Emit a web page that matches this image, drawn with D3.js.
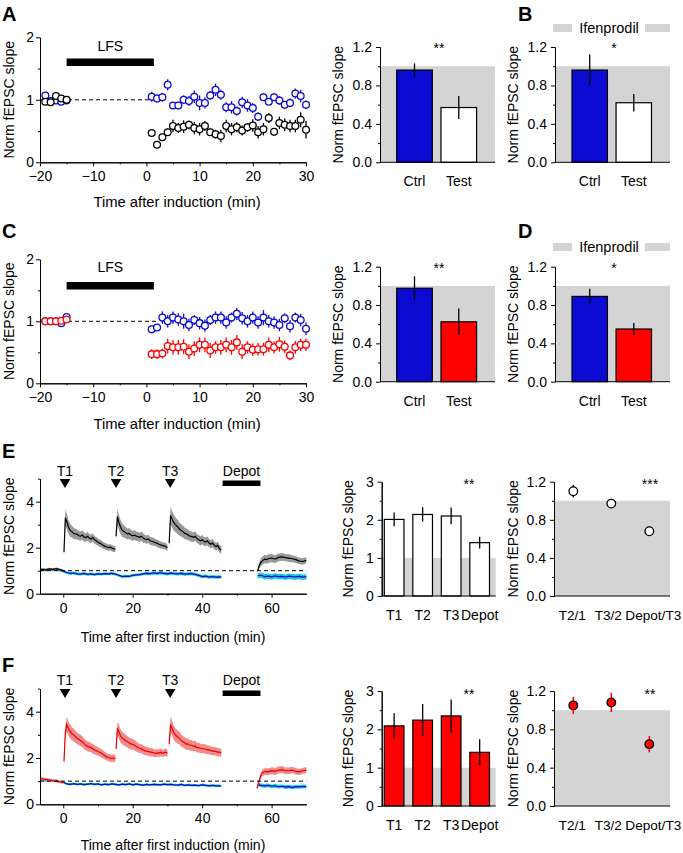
<!DOCTYPE html>
<html><head><meta charset="utf-8">
<script src="https://cdn.jsdelivr.net/npm/d3@7"></script>
<style>body{margin:0;background:#fff} svg{display:block}</style>
</head><body><svg id="c" width="683" height="853"></svg>
<script>
// ---------------- DATA ----------------
const tBase = [-19,-18,-17,-16,-15];
const tPost = [1,2,3,4,5,6,7,8,9,10,11,12,13,14,15,16,17,18,19,20,21,22,23,24,25,26,27,28,29,30];

// Panel A (ctrl = blue, test = black)
const aCtrlBase = [1.07,0.98,0.99,0.97,0.99];
const aCtrlBaseErr = [0.03,0.03,0.03,0.03,0.03];
const aCtrlPost = [1.05,1.02,1.04,1.24,0.91,0.91,1.0,0.98,1.05,0.95,0.95,1.07,1.16,1.08,0.88,0.88,0.82,0.96,0.91,0.87,0.73,1.04,0.97,1.04,0.99,0.92,0.95,1.10,1.06,0.92];
const aCtrlPostErr = [0.08,0.06,0.07,0.09,0.05,0.06,0.07,0.08,0.1,0.12,0.09,0.07,0.1,0.08,0.08,0.1,0.07,0.09,0.1,0.08,0.07,0.06,0.05,0.06,0.07,0.06,0.07,0.08,0.1,0.07];
const aTestBase = [0.97,0.96,1.06,1.02,1.0];
const aTestBaseErr = [0.03,0.03,0.03,0.03,0.03];
const aTestPost = [0.47,0.28,0.40,0.48,0.58,0.55,0.57,0.60,0.55,0.53,0.58,0.48,0.45,0.42,0.58,0.53,0.56,0.51,0.56,0.59,0.48,0.53,0.71,0.49,0.63,0.60,0.58,0.58,0.68,0.52];
const aTestPostErr = [0.04,0.03,0.04,0.06,0.1,0.08,0.1,0.07,0.1,0.1,0.08,0.06,0.07,0.1,0.1,0.1,0.08,0.08,0.07,0.1,0.1,0.1,0.08,0.06,0.1,0.1,0.1,0.1,0.12,0.14];

// Panel C (ctrl = blue, test = red)
const cCtrlBase = [1.0,1.0,1.0,0.97,1.07];
const cCtrlBaseErr = [0.03,0.03,0.03,0.04,0.04];
const cCtrlPost = [0.87,0.90,1.06,1.0,1.06,1.03,1.0,0.94,1.02,0.97,0.93,1.02,1.06,1.06,0.98,1.06,1.12,1.05,1.0,1.06,0.98,1.06,1.0,0.98,0.94,1.05,0.92,1.06,1.02,0.88];
const cCtrlPostErr = [0.06,0.05,0.1,0.1,0.1,0.1,0.12,0.1,0.08,0.1,0.1,0.08,0.1,0.1,0.1,0.08,0.1,0.1,0.1,0.1,0.1,0.12,0.1,0.1,0.1,0.08,0.1,0.08,0.1,0.1];
const cTestBase = [1.0,1.0,1.0,1.01,1.03];
const cTestBaseErr = [0.03,0.03,0.03,0.03,0.03];
const cTestPost = [0.47,0.47,0.48,0.60,0.58,0.58,0.59,0.51,0.56,0.62,0.62,0.53,0.58,0.58,0.62,0.58,0.66,0.51,0.58,0.54,0.55,0.55,0.62,0.58,0.63,0.59,0.45,0.58,0.62,0.62];
const cTestPostErr = [0.08,0.08,0.08,0.12,0.12,0.12,0.12,0.12,0.12,0.12,0.12,0.12,0.1,0.12,0.12,0.12,0.12,0.12,0.1,0.1,0.1,0.1,0.12,0.1,0.12,0.1,0.08,0.1,0.1,0.1];

// Bar charts
const barCats = ["Ctrl","Test"];
const aBar = [0.96,0.57], aBarErr = [0.07,0.12];
const bBar = [0.96,0.62], bBarErr = [0.165,0.09];
const cBar = [0.975,0.625], cBarErr = [0.125,0.14];
const dBar = [0.89,0.55], dBarErr = [0.08,0.062];
const trainCats = ["T1","T2","T3","Depot"];
const eBar = [2.01,2.14,2.10,1.40], eBarErr = [0.18,0.19,0.22,0.155];
const fBar = [2.09,2.24,2.35,1.40], fBarErr = [0.33,0.42,0.43,0.34];
const ratioCats = ["T2/1","T3/2","Depot/T3"];
const eRatio = [1.10,0.97,0.68], eRatioErr = [0.065,0.02,0.02];
const fRatio = [1.05,1.08,0.645], fRatioErr = [0.09,0.1,0.085];

// Panel E traces: [time, mean, sem]
const eTestBaseTrace = [[-6.7,1.03,0.05],[-6,1.06,0.05],[-5,1.04,0.05],[-4,1.08,0.05],[-3,1.06,0.05],[-2,1.09,0.05],[-1,1.05,0.05],[0,1.01,0.05]];
const eTestT1 = [[0.2,1.8,0.15],[0.6,3.3,0.35],[1,3.15,0.35],[1.5,2.9,0.3],[2,2.75,0.28],[2.5,2.7,0.25],[3,2.62,0.25],[3.5,2.6,0.22],[4,2.58,0.22],[4.5,2.52,0.2],[5,2.5,0.2],[5.5,2.55,0.2],[6,2.46,0.2],[6.5,2.44,0.18],[7,2.5,0.2],[7.5,2.42,0.18],[8,2.38,0.18],[8.5,2.45,0.18],[9,2.34,0.17],[9.5,2.3,0.17],[10,2.24,0.16],[10.5,2.2,0.16],[11,2.16,0.15],[11.5,2.1,0.15],[12,2.06,0.15],[12.5,2.04,0.14],[13,2.0,0.14],[13.5,2.02,0.14],[14,1.98,0.14],[14.5,1.95,0.14],[15,1.94,0.14]];
const eTestT2 = [[15.2,2.5,0.2],[15.6,3.35,0.35],[16,3.1,0.33],[16.5,2.9,0.3],[17,2.75,0.28],[17.5,2.7,0.26],[18,2.65,0.25],[18.5,2.6,0.24],[19,2.62,0.24],[19.5,2.55,0.22],[20,2.52,0.22],[20.5,2.55,0.22],[21,2.5,0.2],[21.5,2.48,0.2],[22,2.45,0.2],[22.5,2.5,0.2],[23,2.42,0.2],[23.5,2.38,0.18],[24,2.35,0.18],[24.5,2.38,0.18],[25,2.3,0.18],[25.5,2.28,0.17],[26,2.25,0.17],[26.5,2.22,0.16],[27,2.2,0.16],[27.5,2.15,0.16],[28,2.12,0.15],[28.5,2.1,0.15],[29,2.08,0.15],[29.5,2.05,0.15],[30,2.0,0.15]];
const eTestT3 = [[30.5,2.2,0.2],[30.9,3.4,0.38],[31.3,3.25,0.36],[31.8,3.1,0.34],[32.3,3.0,0.32],[33,2.9,0.3],[33.5,2.8,0.28],[34,2.75,0.27],[34.5,2.7,0.26],[35,2.62,0.25],[35.5,2.6,0.24],[36,2.55,0.23],[36.5,2.5,0.22],[37,2.48,0.22],[37.5,2.45,0.21],[38,2.5,0.21],[38.5,2.4,0.2],[39,2.35,0.2],[39.5,2.3,0.2],[40,2.35,0.2],[40.5,2.28,0.19],[41,2.25,0.19],[41.5,2.3,0.19],[42,2.2,0.18],[42.5,2.15,0.18],[43,2.2,0.18],[43.5,2.1,0.17],[44,2.05,0.17],[44.5,2.1,0.17],[45,1.95,0.17],[45.5,1.9,0.16]];
const eTestDepot = [[56,1.0,0.1],[56.5,1.25,0.15],[57,1.38,0.17],[57.5,1.45,0.18],[58,1.5,0.18],[58.5,1.48,0.18],[59,1.52,0.18],[60,1.55,0.18],[61,1.5,0.17],[62,1.58,0.17],[63,1.6,0.17],[64,1.57,0.16],[65,1.55,0.16],[66,1.52,0.15],[67,1.48,0.15],[68,1.42,0.14],[69,1.4,0.14],[70,1.45,0.14]];
const eCtrlTrace = [[-6.7,1.02,0.06],[-6,1.05,0.06],[-5,1.03,0.06],[-4,1.06,0.06],[-3,1.04,0.06],[-2,1.07,0.06],[-1,1.02,0.06],[0,0.98,0.06],[1,0.92,0.06],[2,0.88,0.06],[3,0.9,0.06],[4,0.86,0.06],[5,0.85,0.06],[6,0.88,0.06],[7,0.84,0.06],[8,0.86,0.06],[9,0.83,0.06],[10,0.86,0.06],[11,0.85,0.06],[12,0.87,0.06],[13,0.86,0.06],[14,0.88,0.06],[15,0.85,0.06],[16,0.8,0.06],[17,0.74,0.06],[18,0.76,0.06],[19,0.75,0.06],[20,0.8,0.06],[21,0.82,0.06],[22,0.83,0.06],[23,0.86,0.06],[24,0.88,0.07],[25,0.87,0.07],[26,0.9,0.07],[27,0.88,0.07],[28,0.91,0.07],[29,0.88,0.07],[30,0.86,0.07],[31,0.89,0.07],[32,0.87,0.07],[33,0.86,0.07],[34,0.88,0.07],[35,0.85,0.07],[36,0.86,0.07],[37,0.87,0.07],[38,0.84,0.07],[39,0.8,0.07],[40,0.74,0.07],[41,0.76,0.07],[42,0.72,0.07],[43,0.74,0.07],[44,0.72,0.07],[45,0.73,0.07],[45.5,0.72,0.07]];
const eCtrlDepot = [[56,0.78,0.12],[57,0.8,0.12],[58,0.74,0.12],[59,0.76,0.12],[60,0.73,0.12],[61,0.77,0.12],[62,0.74,0.12],[63,0.75,0.12],[64,0.72,0.12],[65,0.76,0.12],[66,0.74,0.12],[67,0.73,0.12],[68,0.75,0.12],[69,0.72,0.12],[70,0.74,0.12]];

// Panel F traces
const fTestBaseTrace = [[-6.7,1.12,0.06],[-6,1.1,0.06],[-5,1.08,0.06],[-4,1.05,0.06],[-3,1.02,0.06],[-2,1.0,0.06],[-1,0.97,0.06],[0,0.95,0.06]];
const fTestT1 = [[0.2,1.85,0.15],[0.6,3.1,0.3],[1,3.45,0.33],[1.5,3.25,0.3],[2,3.15,0.3],[2.5,3.05,0.28],[3,3.0,0.27],[3.5,2.92,0.26],[4,2.85,0.25],[4.5,2.8,0.25],[5,2.75,0.24],[5.5,2.7,0.24],[6,2.62,0.23],[6.5,2.55,0.22],[7,2.5,0.22],[7.5,2.48,0.21],[8,2.45,0.2],[8.5,2.4,0.2],[9,2.35,0.2],[9.5,2.32,0.19],[10,2.28,0.19],[10.5,2.25,0.18],[11,2.2,0.18],[11.5,2.15,0.17],[12,2.1,0.17],[12.5,2.05,0.16],[13,2.02,0.16],[13.5,2.0,0.16],[14,1.98,0.16],[14.5,2.0,0.16],[15,1.98,0.16]];
const fTestT2 = [[15.2,2.4,0.2],[15.6,3.25,0.3],[16,3.15,0.3],[16.5,2.95,0.28],[17,2.85,0.27],[17.5,2.8,0.26],[18,2.75,0.25],[18.5,2.7,0.25],[19,2.65,0.24],[19.5,2.6,0.24],[20,2.6,0.23],[20.5,2.55,0.22],[21,2.5,0.22],[21.5,2.45,0.21],[22,2.42,0.2],[22.5,2.4,0.2],[23,2.35,0.2],[23.5,2.32,0.19],[24,2.3,0.19],[24.5,2.28,0.18],[25,2.25,0.18],[25.5,2.25,0.18],[26,2.22,0.17],[26.5,2.2,0.17],[27,2.22,0.17],[27.5,2.2,0.17],[28,2.25,0.17],[28.5,2.2,0.16],[29,2.22,0.16],[29.5,2.25,0.16],[30,2.2,0.16]];
const fTestT3 = [[30.5,2.6,0.22],[30.9,3.45,0.35],[31.3,3.3,0.33],[31.8,3.1,0.3],[32.3,3.0,0.3],[33,2.9,0.28],[33.5,2.85,0.27],[34,2.75,0.26],[34.5,2.7,0.25],[35,2.65,0.25],[35.5,2.6,0.24],[36,2.6,0.24],[36.5,2.55,0.23],[37,2.55,0.23],[37.5,2.5,0.22],[38,2.52,0.22],[38.5,2.45,0.21],[39,2.45,0.21],[39.5,2.42,0.2],[40,2.4,0.2],[40.5,2.4,0.2],[41,2.38,0.2],[41.5,2.35,0.19],[42,2.35,0.19],[42.5,2.32,0.19],[43,2.3,0.18],[43.5,2.3,0.18],[44,2.28,0.18],[44.5,2.25,0.18],[45,2.25,0.17],[45.5,2.22,0.17]];
const fTestDepot = [[55.8,0.7,0.08],[56.3,0.95,0.1],[56.8,1.2,0.12],[57.3,1.35,0.14],[57.8,1.4,0.15],[58.5,1.42,0.15],[59,1.4,0.15],[60,1.45,0.15],[61,1.42,0.15],[62,1.48,0.15],[63,1.5,0.15],[64,1.45,0.14],[65,1.45,0.14],[66,1.48,0.14],[67,1.42,0.14],[68,1.4,0.13],[69,1.45,0.13],[70,1.48,0.13]];
const fCtrlTrace = [[-6.7,1.05,0.05],[-6,1.08,0.05],[-5,1.02,0.05],[-4,1.05,0.05],[-3,1.0,0.05],[-2,1.03,0.05],[-1,0.98,0.05],[0,0.95,0.05],[1,0.88,0.05],[2,0.86,0.05],[3,0.89,0.05],[4,0.86,0.05],[5,0.88,0.05],[6,0.85,0.05],[7,0.87,0.05],[8,0.89,0.05],[9,0.86,0.05],[10,0.88,0.05],[11,0.84,0.05],[12,0.87,0.05],[13,0.85,0.05],[14,0.88,0.05],[15,0.86,0.05],[16,0.84,0.05],[17,0.87,0.05],[18,0.85,0.05],[19,0.88,0.05],[20,0.84,0.05],[21,0.87,0.05],[22,0.85,0.05],[23,0.83,0.05],[24,0.86,0.05],[25,0.84,0.05],[26,0.86,0.05],[27,0.85,0.05],[28,0.84,0.05],[29,0.87,0.05],[30,0.85,0.05],[31,0.86,0.05],[32,0.84,0.05],[33,0.83,0.05],[34,0.86,0.05],[35,0.82,0.05],[36,0.84,0.05],[37,0.82,0.05],[38,0.83,0.05],[39,0.81,0.05],[40,0.84,0.05],[41,0.82,0.05],[42,0.8,0.05],[43,0.82,0.05],[44,0.8,0.05],[45,0.8,0.05],[45.5,0.79,0.05]];
const fCtrlDepot = [[56,0.85,0.08],[57,0.82,0.08],[58,0.8,0.08],[59,0.82,0.08],[60,0.78,0.08],[61,0.8,0.08],[62,0.76,0.08],[63,0.78,0.08],[64,0.74,0.08],[65,0.76,0.08],[66,0.73,0.08],[67,0.76,0.08],[68,0.75,0.08],[69,0.77,0.08],[70,0.76,0.08]];

const inductionTimes = [0.5, 15.2, 30.8];
const inductionLabels = ["T1","T2","T3"];
const depotSpan = [45.9, 56.8];
const lfsSpan = [-15, 1.4];

// ---------------- DRAWING ----------------
const FONT = '"Liberation Sans", Arial, Helvetica, sans-serif';
const BLUE = "#0a0ad0", RED = "#ff0000", GRAY = "#d4d4d4";
const svg = d3.select("#c");
svg.append("rect").attr("width",683).attr("height",853).attr("fill","#fff");

function styleAxis(g){ g.attr("font-family",FONT).attr("font-size",14); g.selectAll("text").attr("fill","#000"); g.selectAll("line,path").attr("stroke","#000"); }

function xAxis(x, y0, maj, min, pad){
  const g = svg.append("g").attr("transform",`translate(0,${y0})`)
    .call(d3.axisBottom(x).tickValues(maj).tickSize(4).tickSizeOuter(0).tickPadding(pad).tickFormat(d3.format("d")));
  styleAxis(g);
  const g2 = svg.append("g").attr("transform",`translate(0,${y0})`)
    .call(d3.axisBottom(x).tickValues(min).tickSize(2).tickSizeOuter(0).tickFormat(""));
  styleAxis(g2);
}
function yAxis(y, x0, maj, min, fmt, pad){
  const g = svg.append("g").attr("transform",`translate(${x0},0)`)
    .call(d3.axisLeft(y).tickValues(maj).tickSize(4).tickSizeOuter(0).tickPadding(pad).tickFormat(fmt));
  styleAxis(g);
  const g2 = svg.append("g").attr("transform",`translate(${x0},0)`)
    .call(d3.axisLeft(y).tickValues(min).tickSize(2).tickSizeOuter(0).tickFormat(""));
  styleAxis(g2);
}
function text(x,y,s,o={}){
  const t = svg.append("text").attr("x",x).attr("y",y).text(s)
    .attr("font-family",FONT).attr("font-size",o.size||14).attr("text-anchor",o.anchor||"middle")
    .attr("font-weight",o.weight||"normal").attr("fill","#000");
  if(o.rotate) t.attr("transform",`rotate(-90,${x},${y})`);
  return t;
}
function ylabel(x, y){ const c=(y.range()[0]+y.range()[1])/2; text(x,c,"Norm fEPSC slope",{rotate:true}); }

// ----- scatter time-course panels (A, C)
function scatterPanel(top0, top2, series, lfsTextY, lfsBarY, xlabY){
  const x = d3.scaleLinear().domain([-20,30]).range([40,306]);
  const y = d3.scaleLinear().domain([0,2]).range([top0, top2]);
  svg.append("line").attr("x1",x(-20)).attr("x2",x(2)).attr("y1",y(1)).attr("y2",y(1))
    .attr("stroke","#000").attr("stroke-width",1).attr("stroke-dasharray","4,3");
  svg.append("rect").attr("x",x(lfsSpan[0])).attr("width",x(lfsSpan[1])-x(lfsSpan[0]))
    .attr("y",lfsBarY).attr("height",7.5).attr("fill","#000");
  text((x(lfsSpan[0])+x(lfsSpan[1]))/2, lfsTextY, "LFS");
  series.forEach(s=>{
    const pts = s.t.map((t,i)=>({t, v:s.v[i], e:s.e[i]}));
    const g = svg.append("g");
    g.selectAll("line").data(pts).join("line")
      .attr("x1",d=>x(d.t)).attr("x2",d=>x(d.t)).attr("y1",d=>y(d.v-d.e)).attr("y2",d=>y(d.v+d.e))
      .attr("stroke",s.color).attr("stroke-width",1.3);
    g.selectAll("circle").data(pts).join("circle")
      .attr("cx",d=>x(d.t)).attr("cy",d=>y(d.v)).attr("r",3.4)
      .attr("fill","#fff").attr("stroke",s.color).attr("stroke-width",1.3);
  });
  xAxis(x, top0, [-20,-10,0,10,20,30], [-15,-5,5,15,25], 5);
  yAxis(y, 40, [0,1,2], [0.5,1.5], d3.format("d"), 2);
  ylabel(14, y);
  text(177, xlabY, "Time after induction (min)", {size:14.8});
}

scatterPanel(162.3, 37.3, [
  {t:tBase.concat(tPost), v:aCtrlBase.concat(aCtrlPost), e:aCtrlBaseErr.concat(aCtrlPostErr), color:BLUE},
  {t:tBase.concat(tPost), v:aTestBase.concat(aTestPost), e:aTestBaseErr.concat(aTestPostErr), color:"#000"}
], 51, 58.5, 207);
scatterPanel(383.3, 259.3, [
  {t:tBase.concat(tPost), v:cCtrlBase.concat(cCtrlPost), e:cCtrlBaseErr.concat(cCtrlPostErr), color:BLUE},
  {t:tBase.concat(tPost), v:cTestBase.concat(cTestPost), e:cTestBaseErr.concat(cTestPostErr), color:RED}
], 272, 282, 429);

// ----- bar panels
function barPanel(o){
  const y = d3.scaleLinear().domain([0,o.ymax]).range([o.y0, o.ytop]);
  const x = d3.scaleBand().domain(o.cats).range(o.bandRange).paddingInner(o.padIn).paddingOuter(0);
  svg.append("rect").attr("x",o.ax).attr("width",o.ax2-o.ax).attr("y",y(1)).attr("height",y(0)-y(1)).attr("fill",GRAY);
  const data = o.cats.map((c,i)=>({c, v:o.vals[i], e:o.errs[i], fill:o.fills[i]}));
  svg.append("g").selectAll("rect").data(data).join("rect")
    .attr("x",d=>x(d.c)).attr("width",x.bandwidth()).attr("y",d=>y(d.v)).attr("height",d=>y(0)-y(d.v))
    .attr("fill",d=>d.fill).attr("stroke","#000").attr("stroke-width",1.2);
  svg.append("g").selectAll("line").data(data).join("line")
    .attr("x1",d=>x(d.c)+x.bandwidth()/2).attr("x2",d=>x(d.c)+x.bandwidth()/2)
    .attr("y1",d=>y(d.v-d.e)).attr("y2",d=>y(d.v+d.e)).attr("stroke","#000").attr("stroke-width",1.3);
  svg.append("line").attr("x1",o.ax).attr("x2",o.ax2).attr("y1",o.y0).attr("y2",o.y0).attr("stroke","#000").attr("stroke-width",1);
  yAxis(y, o.ax, o.maj, o.min, o.fmt, 4);
  data.forEach(d=>text(x(d.c)+x.bandwidth()/2, o.catY, d.c));
  ylabel(o.ylabX, y);
  text(o.starX, o.starY, o.star);
}
const ratioLabelShift = [-1, -3, 4];
function ratioPanel(o){
  const y = d3.scaleLinear().domain([0,1.2]).range([o.y0, o.ytop]);
  const x = d3.scalePoint().domain(o.cats).range([573.3, 649.3]);
  svg.append("rect").attr("x",o.ax).attr("width",o.ax2-o.ax).attr("y",y(1)).attr("height",y(0)-y(1)).attr("fill",GRAY);
  const data = o.cats.map((c,i)=>({c, v:o.vals[i], e:o.errs[i]}));
  svg.append("g").selectAll("line").data(data).join("line")
    .attr("x1",d=>x(d.c)).attr("x2",d=>x(d.c)).attr("y1",d=>y(d.v-d.e)).attr("y2",d=>y(d.v+d.e))
    .attr("stroke",o.errColor).attr("stroke-width",1.5);
  svg.append("g").selectAll("circle").data(data).join("circle")
    .attr("cx",d=>x(d.c)).attr("cy",d=>y(d.v)).attr("r",o.r)
    .attr("fill",o.fill).attr("stroke","#000").attr("stroke-width",1.3);
  svg.append("line").attr("x1",o.ax).attr("x2",o.ax2).attr("y1",o.y0).attr("y2",o.y0).attr("stroke","#000");
  yAxis(y, o.ax, [0,0.4,0.8,1.2], [0.2,0.6,1.0], d3.format(".1f"), 4);
  data.forEach((d,i)=>text(x(d.c)+ratioLabelShift[i], o.catY, d.c, {size:13.6}));
  ylabel(518, y);
  text(650, o.starY, o.star);
}
function ifenprodil(yc){
  svg.append("rect").attr("x",553).attr("width",117).attr("y",yc-4).attr("height",8).attr("fill",GRAY);
  svg.append("rect").attr("x",572).attr("width",73).attr("y",yc-8).attr("height",16).attr("fill","#fff");
  text(609, yc+5, "Ifenprodil", {size:14.5});
}

const f12 = d3.format(".1f");
const common12 = {ymax:1.2, maj:[0,0.4,0.8,1.2], min:[0.2,0.6,1.0], fmt:f12, cats:barCats, padIn:0.196};
barPanel({...common12, y0:162.3, ytop:47, ax:380, ax2:495, bandRange:[396.7,476.6], vals:aBar, errs:aBarErr, fills:[BLUE,"#fff"], catY:186, ylabX:343, starX:439, starY:53, star:"**"});
barPanel({...common12, y0:162.3, ytop:47, ax:555, ax2:670, bandRange:[572,651.5], vals:bBar, errs:bBarErr, fills:[BLUE,"#fff"], catY:186, ylabX:518, starX:614, starY:53, star:"*"});
ifenprodil(28);
barPanel({...common12, y0:381.7, ytop:266.7, ax:380, ax2:495, bandRange:[396.7,476.6], vals:cBar, errs:cBarErr, fills:[BLUE,RED], catY:406, ylabX:343, starX:439, starY:273, star:"**"});
barPanel({...common12, y0:381.7, ytop:266.7, ax:555, ax2:670, bandRange:[572,651.5], vals:dBar, errs:dBarErr, fills:[BLUE,RED], catY:406, ylabX:518, starX:614, starY:273, star:"*"});
ifenprodil(247);

const common3 = {ymax:3, maj:[0,1,2,3], min:[0.5,1.5,2.5], fmt:d3.format("d"), cats:trainCats, padIn:0.31, ax:381.7, ax2:495.7, bandRange:[384.3,489.5]};
barPanel({...common3, y0:596, ytop:481.7, vals:eBar, errs:eBarErr, fills:["#fff","#fff","#fff","#fff"], catY:620, ylabX:353, starX:469, starY:489, star:"**"});
barPanel({...common3, y0:806, ytop:691, vals:fBar, errs:fBarErr, fills:[RED,RED,RED,RED], catY:830, ylabX:353, starX:469, starY:699, star:"**"});
ratioPanel({cats:ratioCats, vals:eRatio, errs:eRatioErr, y0:596, ytop:481.7, ax:554, ax2:670, fill:"#fff", errColor:"#000", r:4.3, catY:620, starY:489, star:"***"});
ratioPanel({cats:ratioCats, vals:fRatio, errs:fRatioErr, y0:806, ytop:691, ax:554, ax2:670, fill:RED, errColor:RED, r:4.3, catY:830, starY:699, star:"**"});

// ----- trace panels (E, F)
function tracePanel(o){
  const x = d3.scaleLinear().domain([-6.7,70]).range([40,306.3]);
  const y = d3.scaleLinear().domain([0,5]).range([o.y0, o.y0-5*o.perUnit]);
  const area = d3.area().x(d=>x(d[0])).y0(d=>y(d[1]-d[2])).y1(d=>y(d[1]+d[2]));
  const line = d3.line().x(d=>x(d[0])).y(d=>y(d[1]));
  o.layers.forEach(L=>{
    L.segs.forEach(s=>{
      svg.append("path").attr("d",area(s)).attr("fill",L.band).attr("stroke","none");
    });
    L.segs.forEach(s=>{
      svg.append("path").attr("d",line(s)).attr("fill","none").attr("stroke",L.color).attr("stroke-width",1.2);
    });
  });
  svg.append("line").attr("x1",x(-6.7)).attr("x2",x(70)).attr("y1",y(1)).attr("y2",y(1))
    .attr("stroke","#000").attr("stroke-width",1).attr("stroke-dasharray","4,3");
  inductionTimes.forEach((t,i)=>{
    const cx = x(t);
    svg.append("path").attr("d",`M${cx-5.3},${o.triTop}L${cx+5.3},${o.triTop}L${cx},${o.triTop+9}Z`).attr("fill","#000");
    text(cx, o.labY, inductionLabels[i]);
  });
  svg.append("rect").attr("x",x(depotSpan[0])).attr("width",x(depotSpan[1])-x(depotSpan[0]))
    .attr("y",o.triTop+1.5).attr("height",5.5).attr("fill","#000");
  text((x(depotSpan[0])+x(depotSpan[1]))/2, o.labY, "Depot");
  xAxis(x, o.y0, [0,20,40,60], [10,30,50], 5);
  yAxis(y, 40, [0,2,4], [1,3,5], d3.format("d"), 2);
  ylabel(14, y);
  text(173, o.xlabY, "Time after first induction (min)");
}
tracePanel({y0:593.7, perUnit:23, triTop:479, labY:476, xlabY:642, layers:[
  {segs:[eCtrlTrace, eCtrlDepot], band:"#1ec8e0", color:"#0808c8"},
  {segs:[eTestBaseTrace, eTestT1, eTestT2, eTestT3, eTestDepot], band:"#999999", color:"#000"}
]});
tracePanel({y0:804.3, perUnit:23.15, triTop:689, labY:685, xlabY:850, layers:[
  {segs:[fCtrlTrace, fCtrlDepot], band:"#1ec8e0", color:"#0808c8"},
  {segs:[fTestBaseTrace, fTestT1, fTestT2, fTestT3, fTestDepot], band:"#f58a8a", color:"#e80000"}
]});

text(2,21,"A",{anchor:"start",size:20,weight:"bold"});
text(518,21,"B",{anchor:"start",size:20,weight:"bold"});
text(2,238,"C",{anchor:"start",size:20,weight:"bold"});
text(518,238,"D",{anchor:"start",size:20,weight:"bold"});
text(2,458,"E",{anchor:"start",size:20,weight:"bold"});
text(2,672,"F",{anchor:"start",size:20,weight:"bold"});
</script></body></html>
